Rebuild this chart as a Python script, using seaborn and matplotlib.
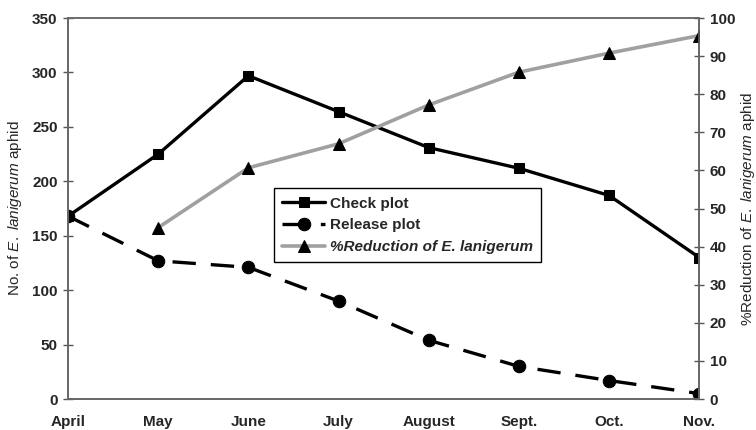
import numpy as np
import pandas as pd
import matplotlib
matplotlib.use('Agg')
import matplotlib.pyplot as plt
import seaborn as sns

# data
months = ['April', 'May', 'June', 'July', 'August', 'Sept.', 'Oct.', 'Nov.']
check_plot = [168, 225, 297, 264, 231, 212, 187, 130]
release_plot = [168, 127, 121, 90, 54, 30, 17, 5]
reduction = [np.nan, 45, 60.7, 67, 77.2, 85.8, 90.8, 95.4]

df = pd.DataFrame({'month': months, 'pos': np.arange(len(months)),
                   'check': check_plot, 'release': release_plot, 'reduction': reduction})

sns.set_style('white')
plt.rcParams['font.family'] = ['Liberation Sans', 'DejaVu Sans']
plt.rcParams['mathtext.fontset'] = 'custom'
plt.rcParams['mathtext.rm'] = 'Liberation Sans'
plt.rcParams['mathtext.it'] = 'Liberation Sans:italic'

fig = plt.figure(figsize=(7.56, 4.30), dpi=100)
ax = fig.add_axes([0.090, 0.072, 0.835, 0.886])
ax2 = ax.twinx()

sns.lineplot(data=df, x='pos', y='check', ax=ax, color='black', linewidth=2.4,
             marker='s', markersize=7, markeredgecolor='black', label='Check plot', legend=False)
sns.lineplot(data=df, x='pos', y='release', ax=ax, color='black', linewidth=2.4,
             linestyle=(0, (7, 4.5)), marker='o', markersize=9, markeredgecolor='black',
             label='Release plot', legend=False)
sns.lineplot(data=df.dropna(), x='pos', y='reduction', ax=ax2, color='#a0a0a0', linewidth=2.6,
             marker='^', markersize=8, markerfacecolor='black', markeredgecolor='black',
             label='%Reduction of E. lanigerum', legend=False)

ax.set_xlim(0, len(months) - 1)
ax.set_ylim(0, 350)
ax2.set_ylim(0, 100)
ax.set_xticks(df['pos'])
ax.set_xticklabels(months)
ax.set_yticks(range(0, 351, 50))
ax2.set_yticks(range(0, 101, 10))

for a in (ax, ax2):
    a.tick_params(direction='inout', length=7, width=1, color='#555555',
                  labelsize=11, pad=4)
    for lab in a.get_xticklabels() + a.get_yticklabels():
        lab.set_fontweight('bold')
    for sp in a.spines.values():
        sp.set_color('#666666')
        sp.set_linewidth(1.2)
ax.tick_params(axis='x', pad=8)
ax.spines['top'].set_color('#999999')

ax.set_xlabel('')
ax.set_ylabel(r'No. of $\mathit{E.\ lanigerum}$ aphid', fontsize=11, labelpad=6)
ax2.set_ylabel(r'%Reduction of $\mathit{E.\ lanigerum}$ aphid', fontsize=11, labelpad=3)

h1, l1 = ax.get_legend_handles_labels()
h2, l2 = ax2.get_legend_handles_labels()
leg = ax2.legend(h1 + h2, l1 + l2, loc='upper left', bbox_to_anchor=(0.326, 0.553),
                 frameon=True, fancybox=False, edgecolor='black', framealpha=1,
                 fontsize=11, handlelength=2.8, handletextpad=0.3,
                 borderpad=0.55, labelspacing=0.5, borderaxespad=0)
leg.get_frame().set_linewidth(1)
for i, t in enumerate(leg.get_texts()):
    t.set_fontweight('bold')
    if i == 2:
        t.set_fontstyle('italic')

fig.savefig('out.png', dpi=100)
